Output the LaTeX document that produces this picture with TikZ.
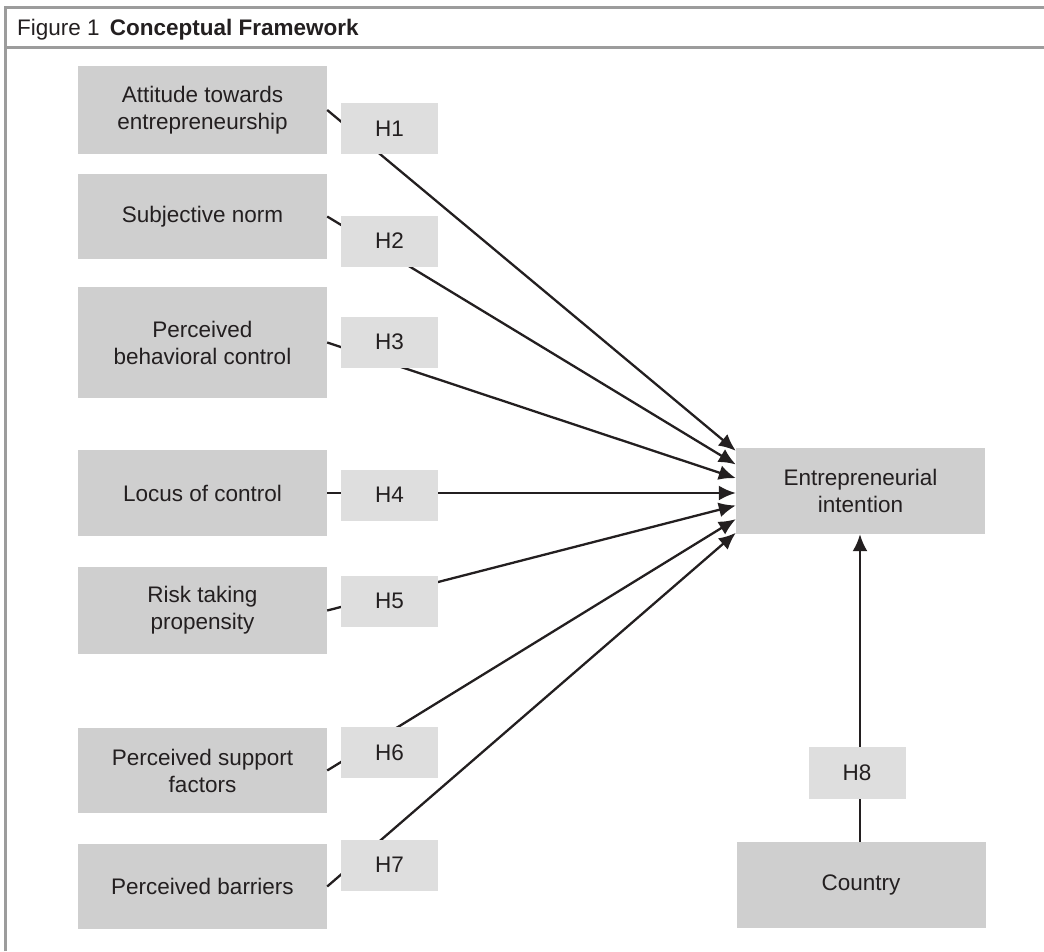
\documentclass[tikz,border=0pt]{standalone}
\usepackage{fontspec}
\setmainfont{Liberation Sans}
\usetikzlibrary{arrows.meta,calc}
\definecolor{boxgray}{RGB}{207,207,207}
\definecolor{hgray}{RGB}{222,222,222}
\definecolor{ink}{RGB}{35,31,32}
\definecolor{framegray}{RGB}{156,156,156}
\begin{document}
\begin{tikzpicture}[x=1pt,y=-1pt,
  every node/.style={font=\fontsize{22.5}{27}\selectfont, text=ink},
  factor/.style={fill=boxgray, minimum width=249pt, inner sep=0pt, align=center},
  hbox/.style={fill=hgray, minimum width=97pt, minimum height=51pt, inner sep=0pt},
  link/.style={draw=ink, line width=2.3pt, -{Latex[length=17pt,width=15pt]}},
  plain/.style={draw=ink, line width=2.3pt}
]
\useasboundingbox (0,0) rectangle (1044,951);
% frame
\draw[framegray, line width=2.7pt] (5.3,951) -- (5.3,7.3) -- (1044,7.3);
\draw[framegray, line width=2.7pt] (5.3,47.3) -- (1044,47.3);
\node[anchor=base west, inner sep=0pt] (title) at (17,35) {Figure 1\hspace{0.45em}\textbf{Conceptual Framework}};

% factor boxes
\node[factor, minimum height=88pt] (A1) at (202.5,110) {Attitude towards\\entrepreneurship};
\node[factor, minimum height=85pt] (A2) at (202.5,216.5) {Subjective norm};
\node[factor, minimum height=111pt] (A3) at (202.5,342.5) {Perceived\\behavioral control};
\node[factor, minimum height=86pt] (A4) at (202.5,493) {Locus of control};
\node[factor, minimum height=87pt] (A5) at (202.5,610.5) {Risk taking\\propensity};
\node[factor, minimum height=85pt] (A6) at (202.5,770.5) {Perceived support\\factors};
\node[factor, minimum height=85pt] (A7) at (202.5,886.5) {Perceived barriers};
\node[factor, minimum height=86pt] (EI) at (860.5,491) {Entrepreneurial\\intention};
\node[factor, minimum height=86pt] (CO) at (861,885) {Country};

% target points
\foreach \k in {1,...,7} {
  \coordinate (t\k) at ($(EI.north west)+(0,{3+13.67*(\k-1)})$);
}

% connectors (behind H boxes)
\draw[link] (A1.east) -- (t1);
\draw[link] (A2.east) -- (t2);
\draw[link] (A3.east) -- (t3);
\draw[link] (A4.east) -- (A4.east -| t4);
\draw[link] (A5.east) -- (t5);
\draw[link] (A6.east) -- (t6);
\draw[link] (A7.east) -- (t7);
\draw[link] (CO.north -| 860,0) -- (EI.south -| 860,0);

% hypothesis labels
\node[hbox] (H1) at (389.5,128.5) {H1};
\node[hbox] (H2) at (389.5,241) {H2};
\node[hbox] (H3) at (389.5,342) {H3};
\node[hbox] (H4) at (389.5,495) {H4};
\node[hbox] (H5) at (389.5,601) {H5};
\node[hbox] (H6) at (389.5,752.5) {H6};
\node[hbox] (H7) at (389.5,865) {H7};
\node[hbox, minimum height=52pt] (H8) at (857,773) {H8};
\end{tikzpicture}
\end{document}
